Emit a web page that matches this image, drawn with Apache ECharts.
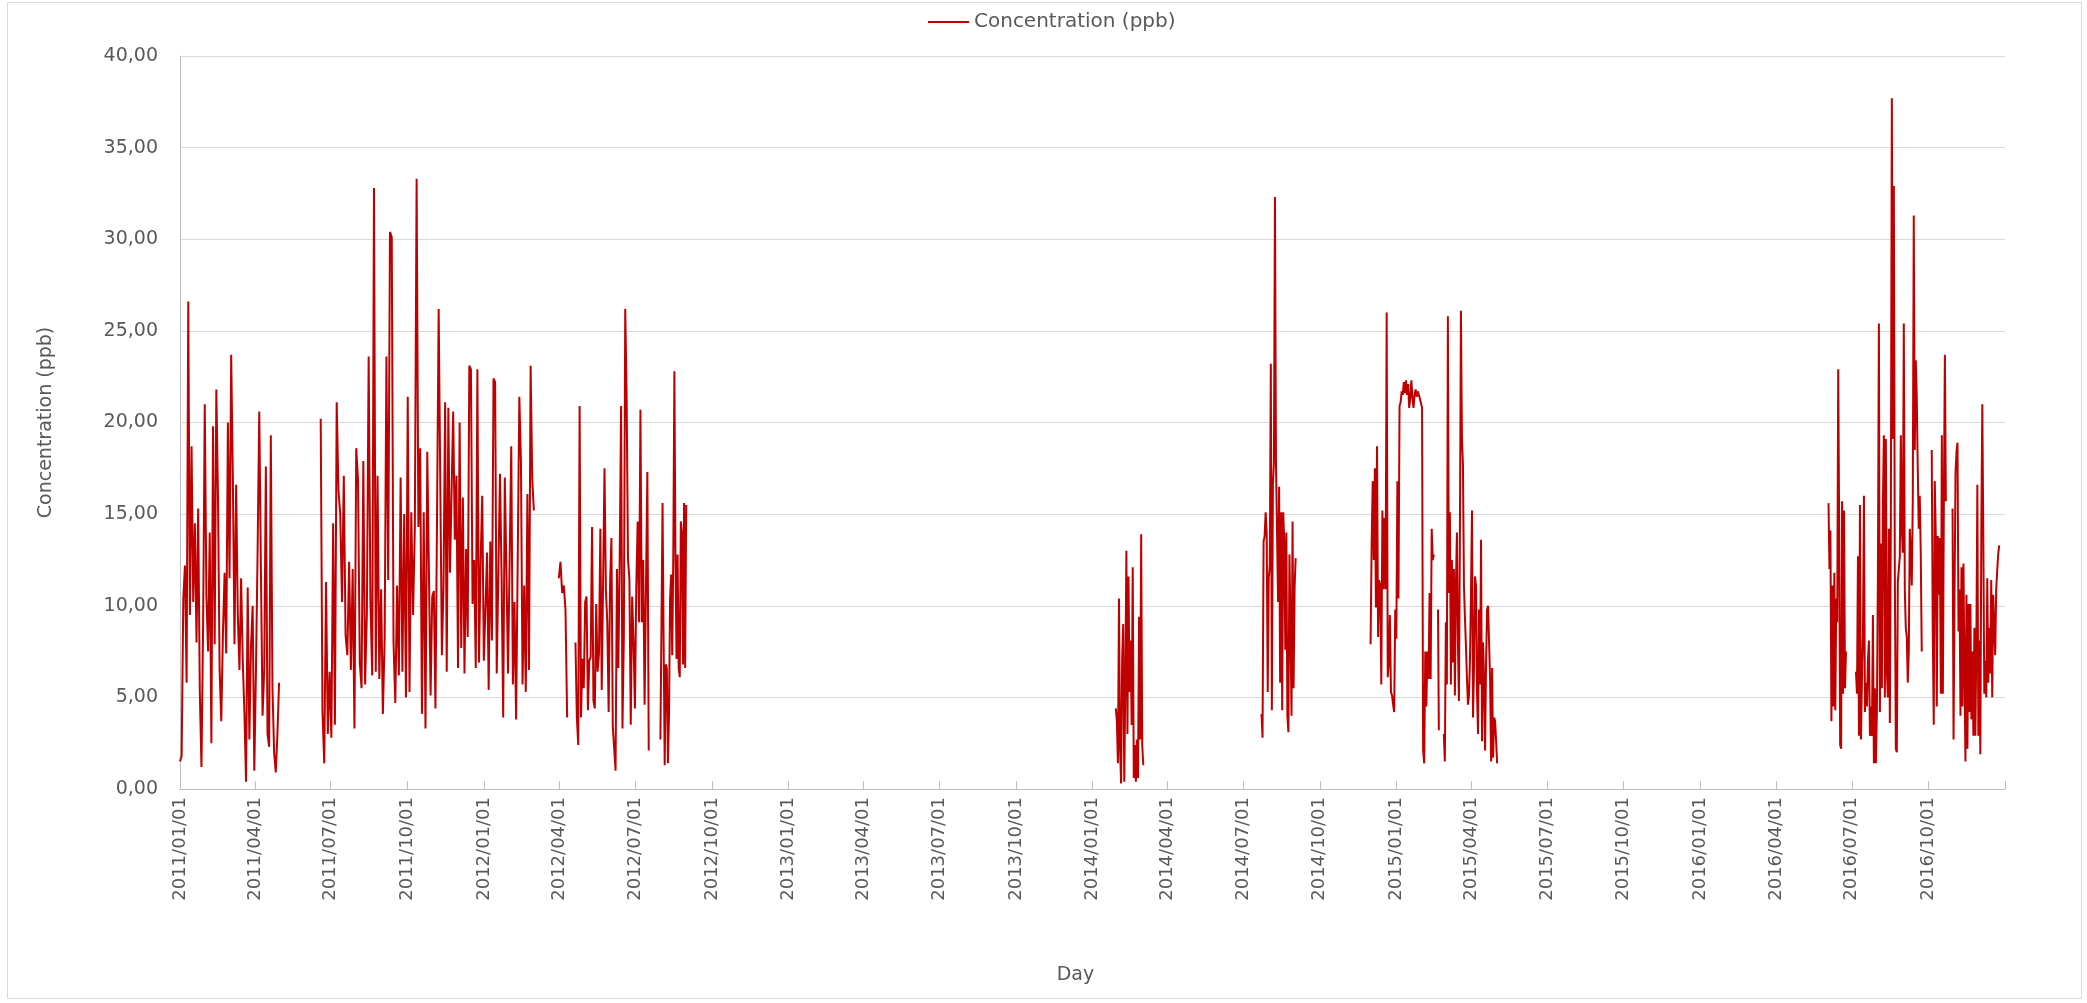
<!DOCTYPE html>
<html>
<head>
<meta charset="utf-8">
<title>Concentration (ppb)</title>
<script src="https://cdn.jsdelivr.net/npm/echarts@6/dist/echarts.min.js"></script>
<style>
  html, body { margin: 0; padding: 0; background: #ffffff; }
  #chart { width: 2087px; height: 1003px; }
</style>
</head>
<body>
<div id="chart"></div>
<script>
// Daily concentration readings (ppb), one array per measuring campaign.
// Each run lists its first and last day; runs inside a campaign are contiguous,
// separate campaigns are split by data gaps.
const conc2011Spring = [1.5, 1.8, 10.4, 12.2, 5.8, 26.6, 9.5, 18.7, 10.2, 14.5, 8.0, 15.3, 5.3, 1.2, 9.0,
  21.0, 10.5, 7.5, 14.0, 2.5, 19.8, 7.9, 21.8, 16.0, 6.5, 3.7, 8.5, 11.8, 7.4, 20.0, 11.5, 23.7, 17.0, 7.9,
  16.6, 9.5, 6.5, 11.5, 7.0, 4.2, 0.4, 11.0, 2.7, 7.8, 10.0, 1.0, 6.5, 13.0, 20.6, 12.0, 4.0, 6.5, 17.6, 3.0,
  2.3, 19.3, 5.5, 2.0, 0.9, 3.0, 5.8];

const conc2011Summer = [20.2, 4.2, 1.4, 11.3, 3.0, 6.4, 2.8, 14.5, 3.5, 21.1, 16.3, 15.0, 10.2, 17.1, 8.4,
  7.3, 12.4, 6.5, 12.0, 3.3, 18.6, 16.9, 6.9, 5.5, 17.9, 5.7, 9.6, 23.6, 10.2, 6.2, 32.8, 6.4, 17.1, 6.0,
  10.9, 4.1, 8.2, 23.6, 11.4, 30.4, 30.1, 8.0, 4.7, 11.1, 6.2, 17.0, 6.4, 15.0, 5.0, 21.4, 5.3, 15.1, 9.5,
  14.3, 33.3, 14.3, 18.6, 4.1, 15.1, 3.3, 18.4];

const conc2011Winter = [5.1, 10.5, 10.8, 4.4, 15.0, 26.2, 26.1, 7.3, 11.1, 21.1, 6.4, 20.8, 11.8, 11.9,
  20.6, 13.6, 17.1, 6.6, 20.0, 7.7, 15.9, 6.3, 13.1, 8.3, 23.1, 22.9, 10.1, 12.5, 6.6, 22.9, 6.9, 12.4,
  16.0, 7.0, 9.8, 12.9, 5.4, 13.5, 8.1, 22.4, 22.2, 6.3, 6.4, 17.2, 11.6, 3.9, 17.0, 11.9, 6.3, 12.5, 18.7,
  5.7, 10.2, 3.8, 12.5, 21.4, 17.9, 5.7, 11.1, 5.3, 16.1, 6.5, 23.1, 16.9, 15.2];

const conc2012April = [11.5, 12.4, 10.7, 11.1, 9.8, 3.9];

const conc2012Spring = [8.0, 3.9, 2.4, 20.9, 3.9, 7.1, 5.5, 10.2, 10.5, 4.3, 7.0, 7.2, 14.3, 4.8, 4.4, 10.1,
  6.4, 7.4, 14.2, 5.4, 11.4, 17.5, 10.9, 9.1, 4.2, 11.1, 13.7, 3.4, 3.5, 1.0, 12.0, 6.6, 12.7, 20.9, 3.3,
  8.4, 26.2, 21.5, 12.5, 11.5, 3.5, 10.5, 8.1, 4.4, 11.1, 14.6, 9.1, 20.7, 9.1, 12.5, 4.6, 11.0, 17.3, 2.1];

const conc2012August = [2.7, 8.9, 15.6, 8.1, 1.3, 6.8, 6.6, 1.4, 4.0, 10.4, 11.7, 7.3, 12.8, 22.8, 12.8,
  7.1, 12.8, 6.6, 6.1, 14.6, 14.0, 6.8, 15.6, 6.6, 15.5];

const conc2014February = [4.4, 3.7, 1.4, 10.4, 2.2, 0.3, 7.1, 9.0, 0.4, 5.8, 13.0, 3.0, 11.6, 5.3, 8.1, 3.5,
  12.1, 0.6, 2.4, 0.4, 2.7, 0.6, 9.4, 2.7, 13.9, 2.4, 1.3];

const conc2014August = [4.1, 2.8, 13.5, 13.8, 15.1, 14.0, 5.3, 11.5, 12.2, 23.2, 4.3, 16.6, 17.8, 32.3,
  17.7, 14.0, 10.2, 16.5, 5.8, 15.1, 4.3, 15.1, 13.5, 7.6, 14.0, 4.0, 3.1, 12.8, 9.1, 4.0, 14.6, 5.5, 11.0, 12.6];

const conc2014Winter = [7.9, 13.4, 16.8, 12.5, 17.5, 9.9, 18.7, 8.3, 11.4, 11.1, 5.7, 15.2, 10.9, 14.8,
  10.9, 26.0, 6.1, 6.9, 9.5, 5.3, 5.1, 4.6, 4.2, 9.8, 8.2, 16.8, 10.4, 20.9, 21.1, 21.7, 21.5, 22.2, 21.6,
  22.3, 21.5, 22.1, 20.8, 21.3, 22.3, 21.4, 20.8, 21.5, 21.8, 21.4, 21.7, 21.5, 21.3, 21.3, 20.8, 2.1, 1.4,
  7.5, 4.5, 7.5, 6.0, 10.7, 6.0, 14.2, 12.5, 12.8];

const conc2015February = [9.8, 3.2];

const conc2015Spring = [3.0, 1.5, 9.1, 5.7, 25.8, 10.7, 15.1, 5.7, 12.5, 6.9, 12.0, 5.1, 11.1, 14.0, 8.0,
  4.8, 14.1, 26.1, 19.1, 17.7, 11.1, 9.3, 7.8, 6.0, 4.6, 5.1, 7.1, 10.7, 15.2, 3.9, 6.6, 11.6, 11.1, 5.3,
  3.0, 9.8, 5.7, 13.6, 2.6, 8.0, 6.0, 2.1, 6.9, 9.8, 10.0, 10.0, 6.0, 1.5, 6.6, 1.7, 3.9, 3.7, 2.6, 1.4];

const conc2016June = [15.6, 12.0, 14.1, 3.7, 11.1, 4.5, 11.8, 4.3, 10.4, 9.1, 22.9, 14.2, 2.4, 2.2, 15.7,
  5.2, 15.2, 5.5, 7.5];

const conc2016Summer = [6.4, 5.2, 12.7, 2.9, 15.5, 2.7, 6.0, 8.3, 16.0, 4.2, 5.8, 4.5, 7.0, 8.1, 2.9, 4.5,
  2.9, 9.5, 1.4, 5.5, 1.4, 4.2, 11.6, 25.4, 4.2, 13.4, 5.5, 15.5, 19.3, 5.0, 19.1, 6.5, 5.0, 14.2, 3.6,
  14.7, 37.7, 19.1, 32.9, 11.6, 2.2, 2.0, 11.3, 11.4, 12.7, 19.3, 14.2, 12.9, 25.4, 10.9, 8.8, 8.3, 5.8,
  7.5, 14.2, 12.9, 11.1, 15.7, 31.3, 18.5, 23.4, 21.4, 17.5, 14.2, 16.0, 12.9, 7.5];

const conc2016October = [18.5, 8.7, 3.5, 16.8, 13.9, 4.5, 13.8, 10.6, 13.7, 5.2, 19.3, 5.2, 15.7, 23.7, 15.7];

const conc2016Winter = [15.3, 2.7, 10.6, 17.3, 18.4, 18.9, 8.6, 10.9, 4.0, 12.1, 4.5, 12.3, 6.5, 1.5, 10.6,
  2.2, 10.1, 4.2, 10.1, 3.8, 7.5, 2.9, 8.8, 2.9, 7.8, 16.6, 2.9, 8.1, 1.9, 14.2, 21.0, 13.9, 5.2, 7.0, 5.0,
  11.5, 5.8, 8.8, 6.3, 11.4, 5.0, 10.6, 10.6, 7.3, 10.9, 11.9, 12.8, 13.3];

// Campaigns: each is a list of contiguous runs [firstDay, lastDay, values].
const campaigns = [
  [['2011-01-01', '2011-04-30', conc2011Spring]],
  [['2011-06-19', '2011-10-25', conc2011Summer], ['2011-10-29', '2012-03-01', conc2011Winter]],
  [['2012-03-31', '2012-04-10', conc2012April]],
  [['2012-04-20', '2012-07-17', conc2012Spring]],
  [['2012-07-31', '2012-08-31', conc2012August]],
  [['2014-01-29', '2014-03-03', conc2014February]],
  [['2014-07-23', '2014-09-02', conc2014August]],
  [['2014-12-01', '2015-02-15', conc2014Winter]],
  [['2015-02-20', '2015-02-21', conc2015February]],
  [['2015-02-27', '2015-05-02', conc2015Spring]],
  [['2016-06-03', '2016-06-24', conc2016June]],
  [['2016-07-06', '2016-09-23', conc2016Summer]],
  [['2016-10-05', '2016-10-22', conc2016October]],
  [['2016-10-30', '2016-12-25', conc2016Winter]]
];

// Quarterly ticks on the date axis.
const tickLabels = ['2011/01/01', '2011/04/01', '2011/07/01', '2011/10/01', '2012/01/01', '2012/04/01',
  '2012/07/01', '2012/10/01', '2013/01/01', '2013/04/01', '2013/07/01', '2013/10/01', '2014/01/01',
  '2014/04/01', '2014/07/01', '2014/10/01', '2015/01/01', '2015/04/01', '2015/07/01', '2015/10/01',
  '2016/01/01', '2016/04/01', '2016/07/01', '2016/10/01'];
const axisStart = '2011/01/01';
const axisEnd = '2017/01/01';

const seriesName = 'Concentration (ppb)';

function toTime(s) {
  const p = s.split(/[-\/]/).map(Number);
  return new Date(p[0], p[1] - 1, p[2]).getTime();
}

function pad(n) { return n < 10 ? '0' + n : '' + n; }

function fmtDate(t) {
  const d = new Date(t);
  return d.getFullYear() + '/' + pad(d.getMonth() + 1) + '/' + pad(d.getDate());
}

// Place each run's readings over its days; a '-' entry breaks the line between campaigns.
const lineData = [];
campaigns.forEach(function (runs, ci) {
  if (ci > 0) {
    const prevRuns = campaigns[ci - 1];
    const gapAt = (toTime(prevRuns[prevRuns.length - 1][1]) + toTime(runs[0][0])) / 2;
    lineData.push([gapAt, '-']);
  }
  runs.forEach(function (run) {
    const t0 = toTime(run[0]);
    const t1 = toTime(run[1]);
    const vals = run[2];
    const step = vals.length > 1 ? (t1 - t0) / (vals.length - 1) : 0;
    vals.forEach(function (v, i) {
      lineData.push([t0 + step * i, v]);
    });
  });
});

const tickTimes = tickLabels.map(toTime);

const chart = echarts.init(document.getElementById('chart'), null, { renderer: 'canvas' });

const textColor = '#595959';
const fontFamily = 'DejaVu Sans';
const lineColor = '#C00000';

chart.setOption({
  backgroundColor: '#ffffff',
  animation: false,
  legend: {
    data: [{ name: seriesName, icon: 'rect' }],
    left: 923,
    top: 7,
    itemWidth: 41,
    itemHeight: 2,
    itemGap: 8,
    textStyle: { color: textColor, fontSize: 20, fontFamily: fontFamily }
  },
  grid: { left: 180, right: 82, top: 56, bottom: 214, containLabel: false },
  xAxis: {
    type: 'value',
    min: toTime(axisStart),
    max: toTime(axisEnd),
    name: 'Day',
    nameLocation: 'middle',
    nameGap: 177,
    nameTextStyle: { color: textColor, fontSize: 19, fontFamily: fontFamily, padding: [0, 34, 0, 0] },
    axisLine: { show: true, lineStyle: { color: '#BFBFBF', width: 1 } },
    axisTick: {
      show: true,
      inside: true,
      length: 8,
      customValues: tickTimes.concat([toTime(axisEnd)]),
      lineStyle: { color: '#BFBFBF', width: 1 }
    },
    axisLabel: {
      show: true,
      rotate: 90,
      margin: 8,
      customValues: tickTimes,
      hideOverlap: false,
      color: textColor,
      fontSize: 18,
      fontFamily: fontFamily,
      formatter: function (v) { return fmtDate(v); }
    },
    splitLine: { show: false }
  },
  yAxis: {
    type: 'value',
    min: 0,
    max: 40,
    interval: 5,
    name: 'Concentration (ppb)',
    nameLocation: 'middle',
    nameRotate: 90,
    nameGap: 124,
    nameTextStyle: { color: textColor, fontSize: 19, fontFamily: fontFamily },
    axisLine: { show: true, lineStyle: { color: '#BFBFBF', width: 1 } },
    axisTick: { show: false },
    axisLabel: {
      margin: 22,
      color: textColor,
      fontSize: 19,
      fontFamily: fontFamily,
      formatter: function (v) { return v.toFixed(2).replace('.', ','); }
    },
    splitLine: { show: true, lineStyle: { color: '#D9D9D9', width: 1 } }
  },
  series: [{
    name: seriesName,
    type: 'line',
    data: lineData,
    showSymbol: false,
    symbol: 'none',
    connectNulls: false,
    lineStyle: { color: lineColor, width: 2 },
    itemStyle: { color: lineColor }
  }],
  graphic: [{
    type: 'rect',
    left: 5,
    top: 0,
    shape: { width: 2074, height: 996 },
    style: { fill: 'none', stroke: '#D9D9D9', lineWidth: 1 },
    silent: true,
    z: -1
  }]
});
</script>
</body>
</html>
